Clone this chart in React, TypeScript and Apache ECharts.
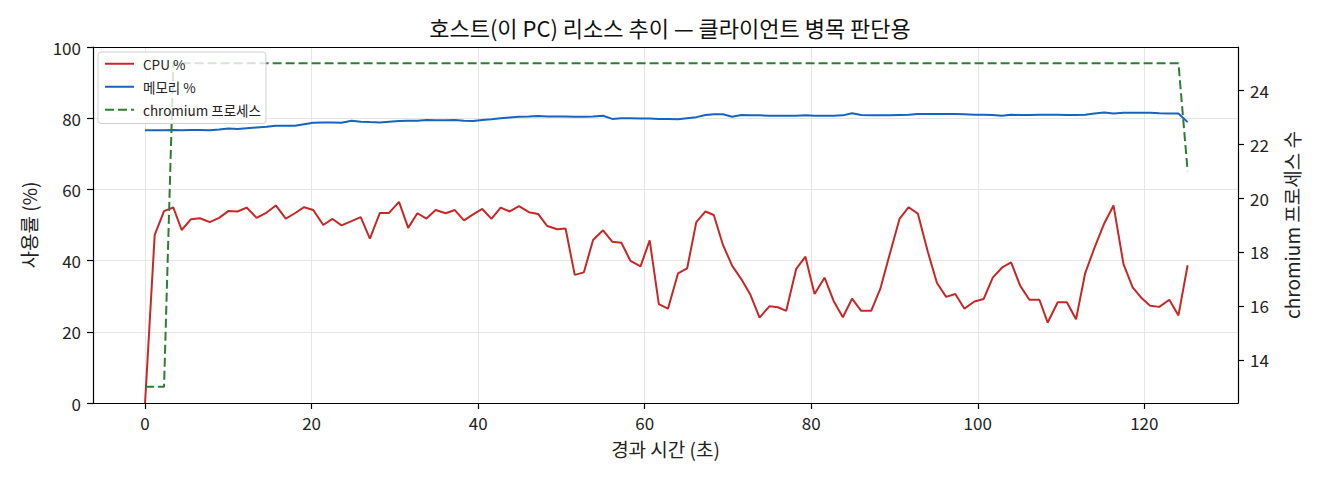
import * as echarts from "echarts";
import { useEffect, useRef } from "react";

// elapsed time (s) of each sample
const elapsed = [
  0, 1.16, 2.28, 3.4, 4.4, 5.5, 6.6, 7.77, 8.9, 10, 11.1, 12.2, 13.4, 14.6, 15.7, 16.9, 18, 19.1, 20.2,
  21.4, 22.5, 23.6, 24.8, 25.9, 27, 28.2, 29.3, 30.5, 31.6, 32.7, 33.8, 34.9, 36.1, 37.2, 38.3, 39.4,
  40.5, 41.6, 42.7, 43.8, 44.9, 46.1, 47.2, 48.3, 49.5, 50.5, 51.6, 52.7, 53.8, 55, 56.1, 57.2, 58.3,
  59.5, 60.6, 61.7, 62.8, 64, 65.1, 66.2, 67.3, 68.3, 69.4, 70.5, 71.6, 72.7, 73.8, 75, 76, 77, 78.2,
  79.3, 80.4, 81.6, 82.7, 83.8, 84.9, 86, 87.2, 88.3, 89.4, 90.6, 91.7, 92.8, 94, 95.1, 96.2, 97.3,
  98.4, 99.6, 100.7, 101.8, 102.9, 104, 105.1, 106.2, 107.4, 108.4, 109.6, 110.7, 111.8, 112.9, 114,
  115.2, 116.3, 117.5, 118.6, 119.7, 120.7, 121.8, 123, 124.1, 125.2,
];

const cpu = [
  0, 47.2, 53.9, 54.9, 48.6, 51.6, 51.9, 50.8, 52, 53.9, 53.8, 54.9, 52, 53.5, 55.5, 51.8, 53.3, 55, 54.2,
  50, 51.7, 49.9, 51.1, 52.2, 46.2, 53.4, 53.4, 56.5, 49.2, 53.3, 51.8, 54.2, 53.3, 54.2, 51.3, 53,
  54.5, 51.7, 54.9, 53.8, 55.3, 53.6, 53.1, 49.7, 48.8, 49, 36, 36.7, 45.8, 48.5, 45.3, 45, 39.9,
  38.4, 45.7, 27.8, 26.5, 36.4, 37.8, 50.8, 53.8, 52.8, 44.4, 38.6, 34.8, 30.4, 24, 27.2, 26.9, 25.9, 37.7,
  41.1, 30.6, 35.2, 28.6, 24.1, 29.3, 25.9, 25.9, 32.1, 41.6, 51.7, 55, 53.2, 42.5, 33.7, 29.8, 30.6,
  26.5, 28.5, 29.2, 35.2, 38, 39.5, 32.9, 29, 29, 22.6, 28.3, 28.3, 23.5, 36.5, 43.5,
  50.5, 55.5, 39, 32.5, 29.4, 27.3, 27, 29, 24.6, 38.7,
];

const memory = [
  76.6, 76.6, 76.6, 76.7, 76.6, 76.7, 76.7, 76.6, 76.8, 77.1, 77.0, 77.2, 77.4, 77.6, 77.9, 77.9, 77.9, 78.3, 78.7,
  78.8, 78.8, 78.7, 79.3, 79.0, 78.9, 78.8, 79.0, 79.2, 79.3, 79.3, 79.5, 79.4, 79.4, 79.5, 79.3, 79.2,
  79.5, 79.7, 80.0, 80.2, 80.4, 80.5, 80.6, 80.5, 80.5, 80.5, 80.4, 80.4, 80.5, 80.7, 79.8, 80.0, 80.0,
  79.9, 79.9, 79.8, 79.8, 79.7, 80.0, 80.3, 80.9, 81.1, 81.1, 80.4, 80.9, 80.8, 80.8, 80.7, 80.7, 80.7, 80.7,
  80.8, 80.7, 80.7, 80.7, 80.8, 81.4, 80.9, 80.8, 80.8, 80.8, 80.9, 81.0, 81.2, 81.2, 81.2, 81.2, 81.2,
  81.1, 81.0, 81.0, 80.9, 80.7, 81.0, 80.9, 80.9, 81.0, 81.0, 81.0, 80.9, 80.9, 81.0, 81.3,
  81.6, 81.3, 81.5, 81.5, 81.5, 81.5, 81.4, 81.3, 81.3, 78.9,
];

const chromiumProcs = [
  13, 13, 13, 25, 25, 25, 25, 25, 25, 25, 25, 25, 25, 25, 25, 25, 25, 25, 25,
  25, 25, 25, 25, 25, 25, 25, 25, 25, 25, 25, 25, 25, 25, 25, 25, 25,
  25, 25, 25, 25, 25, 25, 25, 25, 25, 25, 25, 25, 25, 25, 25, 25, 25,
  25, 25, 25, 25, 25, 25, 25, 25, 25, 25, 25, 25, 25, 25, 25, 25, 25, 25,
  25, 25, 25, 25, 25, 25, 25, 25, 25, 25, 25, 25, 25, 25, 25, 25, 25,
  25, 25, 25, 25, 25, 25, 25, 25, 25, 25, 25, 25, 25, 25, 25,
  25, 25, 25, 25, 25, 25, 25, 25, 25, 21,
];

const xTicks = [0, 20, 40, 60, 80, 100, 120];
const procTicks = [14, 16, 18, 20, 22, 24];

const FONT = "Noto Sans CJK KR";

export default function App() {
  const chartRef = useRef<HTMLDivElement>(null);
  useEffect(() => {
    const chart = echarts.init(chartRef.current, null, { renderer: "svg" });
    chart.setOption(getChartOption());
    return () => {
      chart.dispose();
    };
  }, []);

  return (
    <div
      ref={chartRef}
      style={{ position: "absolute", left: 0, top: 0, width: "1320px", height: "480px", background: "#fff" }}
    />
  );
}

function pairs(values: number[]) {
  return values.map((v, i) => [elapsed[i], v]);
}

function getChartOption() {
  const tickLabel = { color: "#222", fontSize: 17, fontFamily: FONT };
  const axisName = { color: "#222", fontSize: 19, fontFamily: FONT };
  const spine = { show: true, onZero: false, lineStyle: { color: "#000", width: 1.2 } };
  const tick = { show: true, length: 6, lineStyle: { color: "#000", width: 1.2 } };
  return {
    animation: false,
    backgroundColor: "#fff",
    textStyle: { fontFamily: FONT },
    title: {
      text: "호스트(이 PC) 리소스 추이 — 클라이언트 병목 판단용",
      left: 665,
      top: 11,
      textAlign: "center",
      textStyle: { fontSize: 22, fontWeight: "normal", color: "#111", fontFamily: FONT },
    },
    legend: {
      orient: "vertical",
      left: 98,
      top: 52,
      padding: [5, 5, 7, 6],
      itemWidth: 29,
      itemHeight: 14,
      itemGap: 9.5,
      backgroundColor: "rgba(255,255,255,0.8)",
      borderColor: "#d0d0d0",
      borderWidth: 1,
      borderRadius: 3,
      itemStyle: { opacity: 0 },
      textStyle: { fontSize: 13.5, color: "#222", fontFamily: FONT, padding: [0, 0, 0, 4] },
      data: ["CPU %", "메모리 %", "chromium 프로세스"],
    },
    grid: {
      left: 93,
      right: 82,
      top: 47,
      bottom: 77,
    },
    xAxis: [
      {
        type: "value",
        min: -6.25,
        max: 131.25,
        name: "경과 시간 (초)",
        nameLocation: "middle",
        nameGap: 36,
        nameTextStyle: axisName,
        axisLine: spine,
        axisTick: { ...tick, customValues: xTicks },
        axisLabel: { ...tickLabel, margin: 11, customValues: xTicks },
        splitLine: { show: true, lineStyle: { color: "#e6e6e6", width: 1 } },
      },
      {
        type: "value",
        position: "top",
        min: -6.25,
        max: 131.25,
        axisLine: spine,
        axisTick: { show: false },
        axisLabel: { show: false },
        splitLine: { show: false },
      },
    ],
    yAxis: [
      {
        type: "value",
        position: "left",
        min: 0,
        max: 100,
        interval: 20,
        name: "사용률 (%)",
        nameLocation: "middle",
        nameGap: 55,
        nameRotate: 90,
        nameTextStyle: axisName,
        axisLine: spine,
        axisTick: tick,
        axisLabel: { ...tickLabel, margin: 12 },
        splitLine: { show: true, lineStyle: { color: "#e6e6e6", width: 1 } },
      },
      {
        type: "value",
        position: "right",
        min: 12.4,
        max: 25.6,
        name: "chromium 프로세스 수",
        nameLocation: "middle",
        nameGap: 44,
        nameRotate: 90,
        nameTextStyle: axisName,
        axisLine: spine,
        axisTick: { ...tick, customValues: procTicks },
        axisLabel: { ...tickLabel, margin: 12, customValues: procTicks },
        splitLine: { show: false },
      },
    ],
    series: [
      {
        name: "CPU %",
        type: "line",
        yAxisIndex: 0,
        symbol: "none",
        data: pairs(cpu),
        color: "#c62828",
        lineStyle: { color: "#c62828", width: 2 },
      },
      {
        name: "메모리 %",
        type: "line",
        yAxisIndex: 0,
        symbol: "none",
        data: pairs(memory),
        color: "#1565c0",
        lineStyle: { color: "#1565c0", width: 2 },
      },
      {
        name: "chromium 프로세스",
        type: "line",
        yAxisIndex: 1,
        symbol: "none",
        data: pairs(chromiumProcs),
        color: "#2e7d32",
        lineStyle: { color: "#2e7d32", width: 2, type: [9, 4] },
      },
    ],
  };
}
